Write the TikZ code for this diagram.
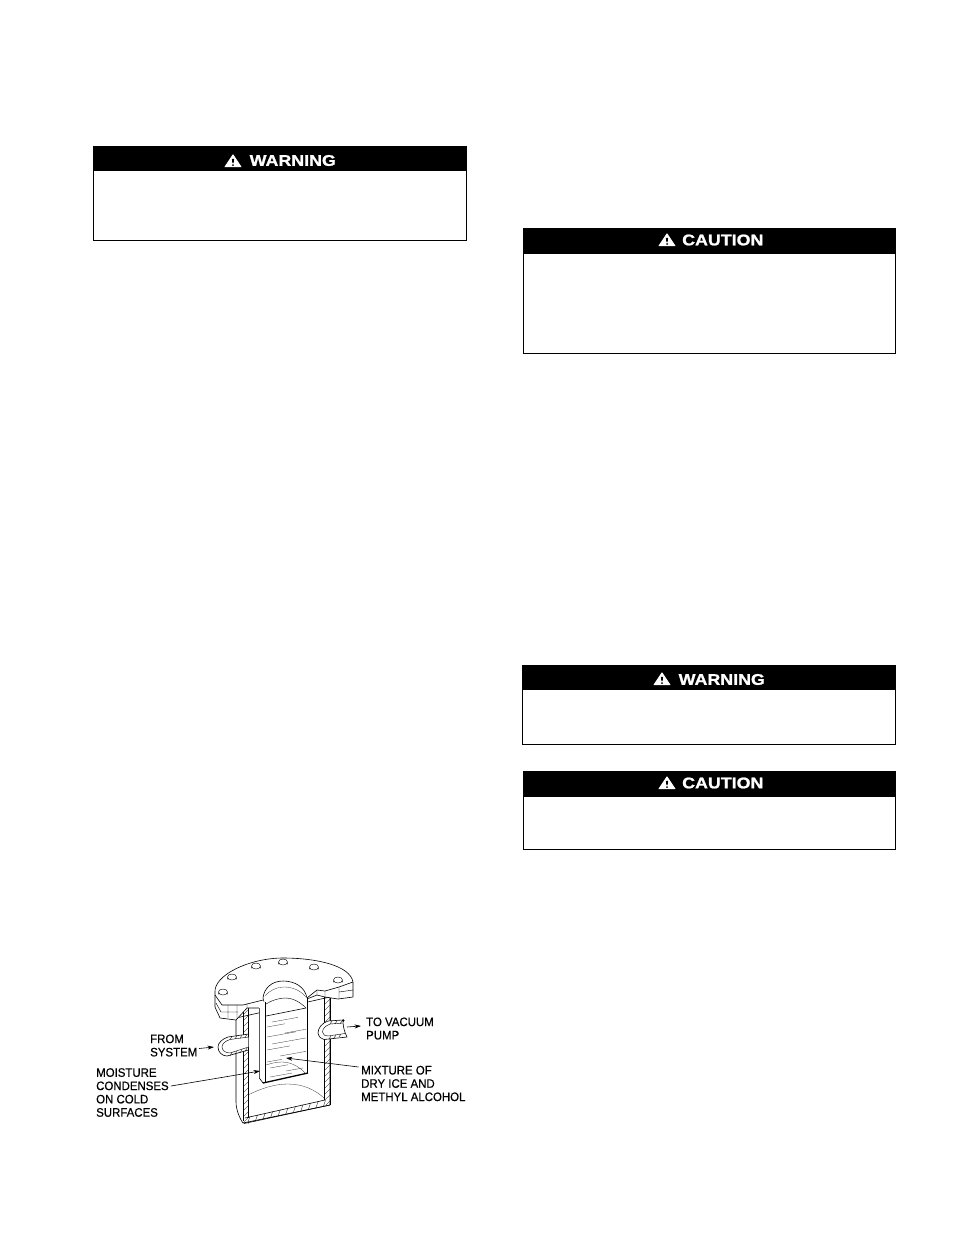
\documentclass[tikz,border=0pt]{standalone}
\usepackage{fontspec}
\setmainfont{Liberation Sans}
\newfontfamily\hdrfont[FakeStretch=1.15,FakeBold=1.2]{Liberation Sans Bold}
\newfontfamily\lblfont[FakeStretch=0.93,FakeBold=0.35]{Liberation Sans}
\usetikzlibrary{arrows.meta}
\tikzset{
  x=1pt,y=-1pt,
  bodybox/.style={draw=black,line width=1pt,fill=white,rectangle,inner sep=0pt,outer sep=0pt,anchor=north west},
  headbox/.style={fill=black,rectangle,inner sep=0pt,outer sep=0pt,anchor=north west},
  headtext/.style={text=white,inner sep=0pt,anchor=west,font=\hdrfont\fontsize{15.5}{16}\selectfont},
  lbl/.style={font=\lblfont\fontsize{12.3}{13.3}\selectfont,align=left,anchor=west,inner sep=0pt,text=black},
  ln/.style={draw=black,line width=.6pt,line join=round},
  fine ln/.style={draw=black,line width=.42pt,line join=round},
  thin ln/.style={draw=black!80,line width=.3pt},
  hatch/.style={draw=black,line width=.3pt},
  leader/.style={draw=black,line width=.6pt,-{Stealth[length=6.5pt,width=4pt]}},
}
\newcommand{\signicon}[2]{%
  \fill[white,line join=round,line width=.8pt,draw=white] (#1-8,#2+5.8) -- (#1,#2-6.2) -- (#1+8,#2+5.8) -- cycle;
  \fill[black] (#1-1.1,#2-2.2) -- (#1+1.1,#2-2.2) -- (#1+.6,#2+2.2) -- (#1-.6,#2+2.2) -- cycle;
  \fill[black] (#1,#2+4) circle (1);
}
\newcommand{\boltcyl}[2]{%
  \filldraw[fine ln,fill=white] (#1-4.5,#2) -- (#1-4.5,#2+2.2) arc[start angle=180,end angle=360,x radius=4.5,y radius=3] -- (#1+4.5,#2);
  \filldraw[fine ln,fill=white] (#1,#2) ellipse[x radius=4.5,y radius=3];
}
\begin{document}
\begin{tikzpicture}
\useasboundingbox (0,0) rectangle (954,1235);
\fill[white] (0,0) rectangle (954,1235);

% sign panels
\node[bodybox,minimum width=373pt,minimum height=94pt] (w1body) at (93.5,146.5) {};
\node[headbox,minimum width=373pt,minimum height=24.5pt] (w1head) at (93.5,146.5) {};
\node[headtext] (w1text) at (249.5,160.5) {WARNING};
\signicon{233}{161}
\node[bodybox,minimum width=371.5pt,minimum height=124.5pt] (c1body) at (523.5,228.5) {};
\node[headbox,minimum width=371.5pt,minimum height=25pt] (c1head) at (523.5,228.5) {};
\node[headtext] (c1text) at (682,240) {CAUTION};
\signicon{667}{240}
\node[bodybox,minimum width=373pt,minimum height=78.5pt] (w2body) at (522.5,665.5) {};
\node[headbox,minimum width=373pt,minimum height=24.5pt] (w2head) at (522.5,665.5) {};
\node[headtext] (w2text) at (678.5,679.5) {WARNING};
\signicon{662}{679}
\node[bodybox,minimum width=371.5pt,minimum height=78.5pt] (c2body) at (523.5,771) {};
\node[headbox,minimum width=371.5pt,minimum height=25.5pt] (c2head) at (523.5,771) {};
\node[headtext] (c2text) at (682,783) {CAUTION};
\signicon{667}{783}

% ---------- vessel ----------
% outer body
\filldraw[ln,fill=white] (236,1018) -- (236,1102) .. controls (236,1110) and (240,1119) .. (243,1123)
   -- (330,1105) -- (330,997) -- cycle;
% back curve of bottom
\draw[thin ln] (248,1095) .. controls (262,1088) and (275,1084) .. (288,1084) .. controls (303,1084) and (316,1090) .. (325,1099);
% left wall hatched
\begin{scope}
\clip (243,1008) rectangle (248.5,1123);
\foreach \k in {0,6,...,120} \draw[hatch] (242,1010+\k) -- (250,1002+\k);
\end{scope}
\draw[ln] (243,1008) -- (243,1121) (248.5,1008) -- (248.5,1118);
% right wall hatched
\begin{scope}
\clip (324.5,997) rectangle (330,1104);
\foreach \k in {0,6,...,114} \draw[hatch] (323,1000+\k) -- (332,991+\k);
\end{scope}
\draw[ln] (324.5,997) -- (324.5,1100) (330,997) -- (330,1105);
% bottom hatched
\begin{scope}
\clip (243,1118) -- (325,1100) -- (330,1105) -- (245,1123.5) -- cycle;
\foreach \k in {0,7,...,91} \draw[hatch] (240+\k,1125) -- (250+\k,1096);
\end{scope}
\draw[ln] (245,1118) -- (325,1100) (244,1123.5) -- (330,1105);

% flange
\filldraw[ln,fill=white] (215,993) .. controls (213,975) and (250,958) .. (283,958)
   .. controls (315,958) and (350,965) .. (353,982) -- (353,997) -- (338,999) -- (325,997) -- (317,995)
   -- (307,999) -- (307,1003) -- (265,1008) -- (247,1008) -- (236,1020) -- (220,1018) -- (215,1007) -- cycle;
% rim edges
\draw[ln] (215,995) -- (222,1005) -- (243,1005) -- (263,1000)
   (353,982) -- (339,987) -- (325,991) -- (317,990) -- (307,998);
\draw[fine ln] (216,1003) -- (221,1012) -- (238,1012)
   (228,1005) -- (228,1018) (237,1005) -- (237,1019) (247,1003) -- (247,1008)
   (339,987) -- (339,999) (317,990) -- (317,995) (325,991) -- (325,997) (339,992) -- (353,990);
% opening
\filldraw[ln,fill=white] (263,998) .. controls (264,988) and (272,981) .. (283,981)
   .. controls (295,981) and (305,987) .. (307,998) -- (307,1006) -- (265,1006) -- cycle;
\draw[thin ln] (265,996) .. controls (270,990) and (277,987) .. (284,987) .. controls (292,987) and (300,990) .. (306,997);

% inner tube
\fill[white] (259,1002) -- (259,1078) -- (263,1083) -- (308,1073) -- (308,998) -- cycle;
\draw[ln] (259.3,1008) -- (259.3,1078) -- (263,1083);
\draw[ln,line width=.9pt] (265,1002) -- (265,1083);
\draw[ln] (307.5,998) -- (307.5,1073);
\draw[ln,line width=1.3pt] (263,1083) -- (308,1073);
\draw[ln] (266,1016) -- (306,1008);
\draw[fine ln] (266,1004) .. controls (272,1000) and (280,998) .. (285,998) .. controls (293,998) and (300,1002) .. (306,1008);
% liquid lines
\foreach \y/\a/\b in {1022/272/298,1027/267/285,1033/285/306,1037/267/296,1044/272/306,1050/267/290,1056/280/306,1062/267/282,1068/270/288,1071/286/303,1077/270/292}
  \draw[thin ln] (\a,\y) -- (\b,\y-.18*\b+.18*\a);
\draw[thin ln] (266,1065) .. controls (272,1063) and (277,1062) .. (282,1062) .. controls (292,1062) and (301,1068) .. (306,1074);

% left pipe
\filldraw[ln,fill=white] (248.5,1034) -- (228,1037) .. controls (222,1039) and (218,1043) .. (218,1047)
   .. controls (218,1052) and (222,1056) .. (227,1056) -- (248.5,1050) -- cycle;
\filldraw[fine ln,fill=white] (248.5,1037) -- (230,1039.5) .. controls (225,1041) and (222,1044) .. (222,1047)
   .. controls (222,1050) and (225,1053) .. (230,1053) -- (248.5,1047) -- cycle;
\foreach \k in {0,5,10,15} {
  \draw[hatch] (230+\k,1039.5-.13*\k) -- (232+\k,1036.5-.13*\k);
  \draw[hatch] (230+\k,1056-.3*\k) -- (232+\k,1052.5-.3*\k);
}
% right pipe
\filldraw[ln,fill=white] (343,1020) -- (328,1021) .. controls (322,1023) and (318,1028) .. (318,1033)
   .. controls (319,1037) and (321,1039) .. (324,1039.5) -- (347,1037)
   .. controls (344,1031) and (343,1026) .. (343,1020) -- cycle;
\draw[fine ln] (343,1023) -- (330,1024) .. controls (325,1026) and (322.5,1029) .. (322.5,1032)
   .. controls (323,1035) and (325,1036) .. (328,1036) -- (345,1033.5);
\foreach \k in {0,5,10} {
  \draw[hatch] (330+\k,1024) -- (332+\k,1021);
  \draw[hatch] (329+\k,1039-.2*\k) -- (331+\k,1036-.2*\k);
}
\fill[black] (343.3,1020.5) circle (1.3);

% bolts
\boltcyl{223}{992}
\boltcyl{232}{977}
\boltcyl{256}{966}
\boltcyl{283}{962}
\boltcyl{314}{967}
\boltcyl{338}{980}

% labels
\node[lbl] (fromsys) at (150,1045.5) {FROM\\SYSTEM};
\node[lbl] (tovac) at (366,1028.5) {TO VACUUM\\PUMP};
\node[lbl] (moist) at (96,1092.5) {MOISTURE\\CONDENSES\\ON COLD\\SURFACES};
\node[lbl] (mix) at (361,1083.5) {MIXTURE OF\\DRY ICE AND\\METHYL ALCOHOL};

% connectors
\coordinate (fromTail) at (199,1048.5);
\coordinate (pipeL) at (214,1047);
\coordinate (vacTip) at (361,1026);
\coordinate (vacTail) at (347,1027);
\coordinate (moistTail) at (171,1086);
\coordinate (tubeL) at (260,1071);
\coordinate (mixTail) at (358.5,1067);
\coordinate (liqPt) at (286,1058);
\draw[leader] (fromTail) -- (pipeL);
\draw[leader] (vacTail) -- (vacTip);
\draw[leader] (moistTail) -- (tubeL);
\draw[leader] (mixTail) -- (liqPt);
\end{tikzpicture}
\end{document}
